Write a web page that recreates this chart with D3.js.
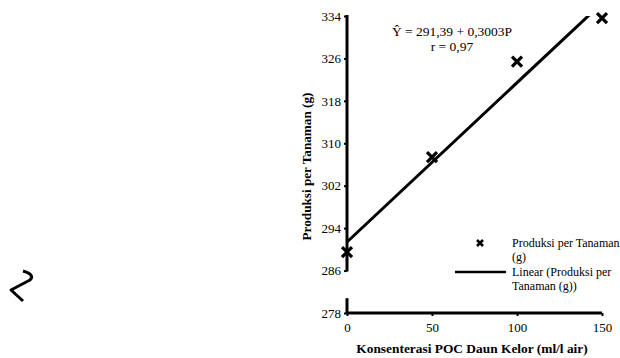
<!DOCTYPE html>
<html>
<head>
<meta charset="utf-8">
<script src="https://cdn.jsdelivr.net/npm/d3@7"></script>
<style>
  body { margin: 0; background: #fff; }
  svg { display: block; font-family: "Liberation Serif", "Times New Roman", serif; }
</style>
</head>
<body>
<script>
const width = 620;
const height = 358;

// data
const konsentrasi = [0, 50, 100, 150];
const produksi = [289.5, 307.4, 325.4, 333.6];
const xTicks = [0, 50, 100, 150];
const yTicks = [278, 286, 294, 302, 310, 318, 326, 334];
const intercept = 291.39;
const slope = 0.3003;
const equation = ["\u0176 = 291,39 + 0,3003P", "r = 0,97"];
const legendLabels = [["Produksi per Tanaman", "(g)"], ["Linear (Produksi per", "Tanaman (g))"]];

const x = d3.scaleLinear([0, 150], [347, 602]);
const y = d3.scaleLinear([278, 334], [313, 16]);

const svg = d3.create("svg").attr("width", width).attr("height", height);

svg.append("defs").append("clipPath").attr("id", "plot")
  .append("rect")
  .attr("x", x(0) - 10).attr("y", y(334))
  .attr("width", x(150) - x(0) + 20).attr("height", y(278) - y(334));

// y axis with a break between 278 and 286
const yAxis = svg.append("g")
  .attr("transform", `translate(${x(0)},0)`)
  .call(d3.axisLeft(y).tickValues(yTicks).tickSize(3).tickPadding(3).tickFormat(d3.format("d")));
yAxis.select(".domain").remove();
yAxis.selectAll(".tick line").attr("stroke", "#000").attr("stroke-width", 2);
yAxis.selectAll(".tick text").attr("font-size", 13).attr("fill", "#000")
  .attr("font-family", "Liberation Serif");

const axisSegs = [[286, 334], [278, 280.6]];
svg.append("g").selectAll("line").data(axisSegs).join("line")
  .attr("x1", x(0)).attr("x2", x(0))
  .attr("y1", d => y(d[0]) + 1).attr("y2", d => y(d[1]) - 1)
  .attr("stroke", "#000").attr("stroke-width", 3);

// x axis
const xAxis = svg.append("g")
  .attr("transform", `translate(0,${y(278)})`)
  .call(d3.axisBottom(x).tickValues(xTicks).tickSize(3).tickPadding(7).tickFormat(d3.format("d")));
xAxis.select(".domain").attr("d", `M${x(0)},0H${x(150)}`).attr("stroke", "#000").attr("stroke-width", 3);
xAxis.selectAll(".tick line").attr("stroke", "#000").attr("stroke-width", 2);
xAxis.selectAll(".tick text").attr("font-size", 13).attr("fill", "#000")
  .attr("font-family", "Liberation Serif");

// trend line
svg.append("line")
  .attr("clip-path", "url(#plot)")
  .attr("x1", x(0)).attr("y1", y(intercept))
  .attr("x2", x(150)).attr("y2", y(intercept + slope * 150))
  .attr("stroke", "#000").attr("stroke-width", 3);

// markers
const m = 5;
const cross = `M${-m},${-m}L${m},${m}M${-m},${m}L${m},${-m}`;
svg.append("g").selectAll("path").data(konsentrasi).join("path")
  .attr("transform", (d, i) => `translate(${x(d)},${y(produksi[i])})`)
  .attr("d", cross)
  .attr("stroke", "#000").attr("stroke-width", 3.2).attr("fill", "none");

// equation
svg.append("text")
  .attr("x", 452).attr("y", 36)
  .attr("text-anchor", "middle").attr("font-size", 13.5)
  .selectAll("tspan").data(equation).join("tspan")
  .attr("x", 452).attr("dy", (d, i) => i ? 15 : 0)
  .text(d => d);

// axis titles
svg.append("text")
  .attr("transform", `translate(311,${(y(334) + y(278)) / 2 + 2}) rotate(-90)`)
  .attr("text-anchor", "middle").attr("font-size", 13.2).attr("font-weight", "bold")
  .text("Produksi per Tanaman (g)");

svg.append("text")
  .attr("x", 472).attr("y", 353)
  .attr("text-anchor", "middle").attr("font-size", 13.4).attr("font-weight", "bold")
  .text("Konsenterasi POC Daun Kelor (ml/l air)");

// legend
const legend = svg.append("g").attr("font-size", 12);
legend.append("path")
  .attr("transform", "translate(480,243)")
  .attr("d", "M-3,-3L3,3M-3,3L3,-3")
  .attr("stroke", "#000").attr("stroke-width", 2.5);
legend.append("line")
  .attr("x1", 455).attr("x2", 506).attr("y1", 272).attr("y2", 272)
  .attr("stroke", "#000").attr("stroke-width", 2.5);
legend.selectAll("text").data(legendLabels).join("text")
  .attr("x", 512).attr("y", (d, i) => 247 + i * 29)
  .selectAll("tspan").data(d => d).join("tspan")
  .attr("x", 512).attr("dy", (d, i) => i ? 14 : 0)
  .text(d => d);

// break squiggle at the left edge
svg.append("path")
  .attr("d", "M23,271 C30,273 34,276 30,280 L11,290 L23,301")
  .attr("fill", "none").attr("stroke", "#000").attr("stroke-width", 3)
  .attr("stroke-linejoin", "round");

document.body.appendChild(svg.node());
</script>
</body>
</html>
